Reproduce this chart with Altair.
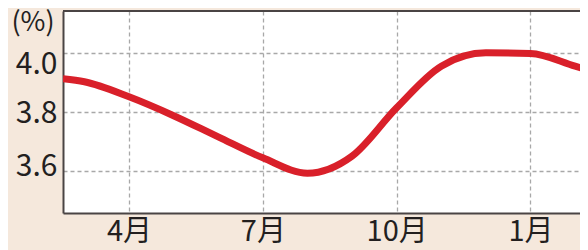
import altair as alt
import pandas as pd

months = [2.52, 3, 4, 5, 6, 7, 8, 9, 10, 11, 12, 13, 14, 14.29]
rates = [3.912, 3.902, 3.851, 3.787, 3.715, 3.644, 3.592, 3.65, 3.814, 3.955, 4.0, 3.998, 3.955, 3.942]
x_ticks = [4, 7, 10, 13]
x_labels = ["4月", "7月", "10月", "1月"]
y_ticks = [3.6, 3.8, 4.0]
unit_label = ["(%)"]

df = pd.DataFrame({"m": months, "v": rates})

label_map = "{" + ",".join(f"'{t}':'{l}'" for t, l in zip(x_ticks, x_labels)) + "}"
FONT = "Noto Sans CJK JP"
TXT = "#231f1f"
AX = "#4a4444"

line = alt.Chart(df).mark_line(
    color="#d9202a", strokeWidth=7, interpolate="monotone", clip=True, strokeCap="butt"
).encode(
    x=alt.X("m:Q", scale=alt.Scale(domain=[2.52, 14.11], nice=False, zero=False),
            axis=alt.Axis(values=x_ticks, labelExpr=f"{label_map}[datum.value]",
                          title=None, tickSize=0, labelPadding=4,
                          domain=True, domainColor=AX, domainWidth=2,
                          grid=True, gridDash=[4, 3], gridColor="#a8a8a8", gridWidth=1.3,
                          labelFont=FONT, labelFontSize=29, labelFontWeight="normal",
                          labelColor=TXT)),
    y=alt.Y("v:Q", scale=alt.Scale(domain=[3.457, 4.142], nice=False, zero=False),
            axis=alt.Axis(values=y_ticks, format=".1f", tickSize=0, labelPadding=6,
                          domain=True, domainColor=AX, domainWidth=2,
                          grid=True, gridDash=[4, 3], gridColor="#a8a8a8",
                          gridWidth=1.3, labelFont=FONT, labelFontSize=30,
                          labelFontWeight="normal", labelColor=TXT,
                          labelOffset={"condition": [
                              {"test": "datum.value == 4", "value": 12},
                              {"test": "datum.value == 3.6", "value": -4}],
                              "value": 2},
                          title=None)),
)

unit = alt.Chart(pd.DataFrame({"t": unit_label})).mark_text(
    font=FONT, fontSize=27, color=TXT, align="center", baseline="middle"
).encode(text="t:N", x=alt.value(-30), y=alt.value(12))

top_border = alt.Chart(pd.DataFrame({"k": [0]})).mark_rule(
    color=AX, strokeWidth=2
).encode(y=alt.value(0))

chart = alt.layer(top_border, line, unit).properties(
    width=517, height=202,
    background="#f5e8dc",
    autosize=alt.AutoSizeParams(type="none"),
    padding={"left": 55, "top": 3, "right": 0, "bottom": 37},
).configure_view(
    fill="#ffffff", stroke=None
)

chart.save("out.html", embed_options={"renderer": "svg", "actions": False})
